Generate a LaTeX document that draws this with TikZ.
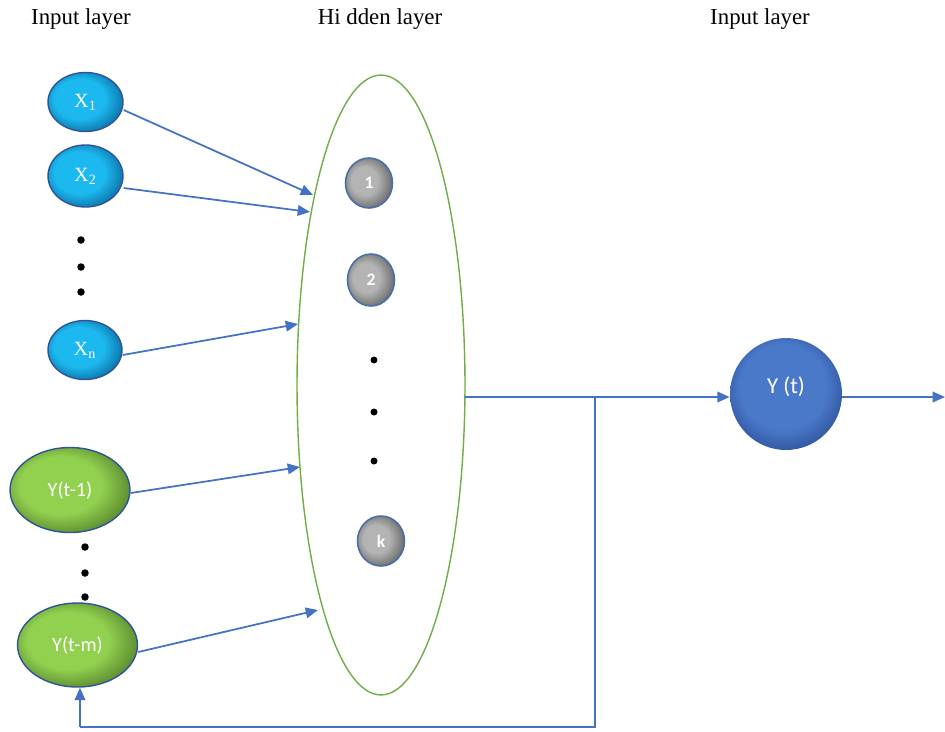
\documentclass[tikz,border=0pt]{standalone}
\usepackage{fontspec}
\setmainfont{Liberation Serif}
\newfontfamily\carl{Carlito}
\usetikzlibrary{arrows.meta,shapes.geometric}
\definecolor{lineblue}{HTML}{4472C4}
\definecolor{cyanA}{HTML}{1CB8F0}
\definecolor{cyanB}{HTML}{0A6C9E}
\definecolor{greenA}{HTML}{92D050}
\definecolor{greenB}{HTML}{54822A}
\definecolor{grayA}{HTML}{B4B4B4}
\definecolor{grayB}{HTML}{5E5E5E}
\definecolor{blueA}{HTML}{4A79CA}
\definecolor{blueB}{HTML}{294C92}
\definecolor{ringgreen}{HTML}{70AD47}
\definecolor{rimblue}{HTML}{2F5597}
\definecolor{rimgray}{HTML}{4A6EA8}
\pgfdeclareradialshading{cyanrim}{\pgfpoint{-6bp}{4bp}}{color(0bp)=(cyanA); color(17bp)=(cyanA); color(30bp)=(cyanB); color(50bp)=(cyanB)}
\pgfdeclareradialshading{greenrim}{\pgfpoint{-6bp}{4bp}}{color(0bp)=(greenA); color(17bp)=(greenA); color(30bp)=(greenB); color(50bp)=(greenB)}
\pgfdeclareradialshading{grayrim}{\pgfpoint{-7bp}{3bp}}{color(0bp)=(grayA); color(14bp)=(grayA); color(31bp)=(grayB); color(50bp)=(grayB)}
\pgfdeclareradialshading{bluerim}{\pgfpoint{-2bp}{5bp}}{color(0bp)=(blueA); color(19bp)=(blueA); color(31bp)=(blueB); color(50bp)=(blueB)}
\tikzset{
  title/.style={font=\fontsize{13}{15}\selectfont},
  xin/.style={ellipse, draw=rimblue, line width=0.8pt, shading=cyanrim, inner sep=0pt,
    text=white, font=\fontsize{11.5}{13}\selectfont},
  yin/.style={ellipse, draw=rimblue, line width=0.8pt, shading=greenrim, inner sep=0pt,
    text=white, font=\carl\fontsize{11.5}{13}\selectfont},
  hid/.style={ellipse, draw=rimgray, line width=0.9pt, shading=grayrim, inner sep=0pt,
    minimum width=0.94cm, minimum height=1.0cm, text=white, font=\carl\bfseries\fontsize{10}{12}\selectfont},
  outn/.style={circle, shading=bluerim, inner sep=0pt, minimum size=2.24cm},
  arr/.style={draw=lineblue, line width=1pt, -{Triangle[length=7pt,width=6pt]}},
  ln/.style={draw=lineblue, line width=1pt},
  dotn/.style={circle, fill=black, inner sep=0pt, minimum size=0.15cm}
}
\begin{document}
\begin{tikzpicture}[x=0.02cm,y=-0.02cm]
\useasboundingbox (0,0) rectangle (945,731);
% titles
\node[title] (t1) at (81,19) {Input layer};
\node[title] (t2) at (380,19) {Hi dden layer};
\node[title] (t3) at (760,19) {Input layer};
% hidden layer ring
\node[ellipse, draw=ringgreen, line width=0.8pt, minimum width=3.36cm, minimum height=12.4cm, inner sep=0pt] (H) at (381,385) {};
% input nodes
\node[xin, minimum width=1.5cm, minimum height=1.18cm] (x1) at (85.5,102) {X\textsubscript{1}};
\node[xin, minimum width=1.5cm, minimum height=1.24cm] (x2) at (85.5,176) {X\textsubscript{2}};
\node[xin, minimum width=1.48cm, minimum height=1.18cm] (xn) at (85,350) {X\textsubscript{n}};
\node[dotn] (d1) at (81,240) {};
\node[dotn] (d2) at (81,267) {};
\node[dotn] (d3) at (81,292) {};
\node[yin, minimum width=2.4cm, minimum height=1.7cm] (y1) at (70,490) {Y(t-1)};
\node[yin, minimum width=2.4cm, minimum height=1.68cm] (ym) at (77.5,645) {Y(t-m)};
\node[dotn] (d4) at (85,547) {};
\node[dotn] (d5) at (85,573) {};
\node[dotn] (d6) at (85,597) {};
% hidden nodes
\node[hid] (h1) at (369,183) {1};
\node[hid, minimum height=1.04cm] (h2) at (371,280) {2};
\node[dotn, minimum size=0.14cm] (d7) at (374,360) {};
\node[dotn, minimum size=0.14cm] (d8) at (374,412) {};
\node[dotn, minimum size=0.14cm] (d9) at (374,461) {};
\node[hid] (hk) at (381,541) {k};
% output
\node[outn] (Y) at (786,394) {};
\node[text=white, font=\carl\fontsize{13}{15}\selectfont] (Yl) at (786,387) {Y (t)};
% connector end points on the ring
\coordinate (e1) at (313,195);
\coordinate (e2) at (310,212);
\coordinate (e3) at (298,324);
\coordinate (e4) at (300,467);
\coordinate (e5) at (318,610);
\coordinate (o1) at (465,397);
\coordinate (j) at (595,397);
\coordinate (jb) at (595,727);
\coordinate (fb) at (80,727);
\coordinate (out) at (945,397);
% connectors
\draw[arr] ([yshift=-0.16cm]x1.east) -- (e1);
\draw[arr] ([yshift=-0.24cm]x2.east) -- (e2);
\draw[arr] ([yshift=-0.1cm]xn.east) -- (e3);
\draw[arr] ([yshift=-0.06cm]y1.east) -- (e4);
\draw[arr] ([yshift=-0.14cm]ym.east) -- (e5);
\draw[arr] (o1) -- (o1 -| Y.west);
\draw[arr] (o1 -| Y.east) -- (out);
\draw[ln] (j) -- (jb) -- (fb);
\draw[arr] (fb) -- (fb |- ym.south);
\end{tikzpicture}
\end{document}
